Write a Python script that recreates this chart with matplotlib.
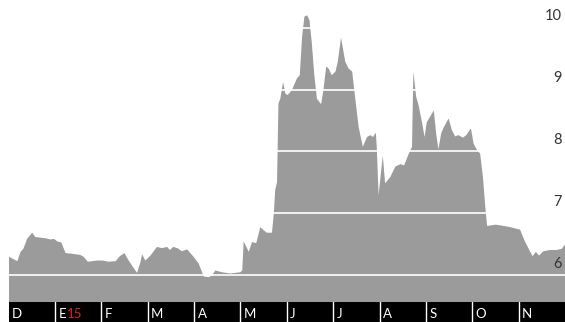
import numpy as np
import matplotlib
matplotlib.use("Agg")
import matplotlib.pyplot as plt

# time in months since 1 Dec 2014, value of the series
t = [0.00, 0.18, 0.25, 0.31, 0.39, 0.50, 0.57, 0.68, 0.79, 0.89, 0.97, 1.04, 1.13, 1.22,
     1.36, 1.54, 1.61, 1.70, 1.90, 2.01, 2.15, 2.30, 2.39, 2.49, 2.58, 2.76, 2.83, 2.87,
     2.94, 3.05, 3.19, 3.30, 3.41, 3.47, 3.54, 3.63, 3.73, 3.84, 3.98, 4.09, 4.20, 4.31,
     4.38, 4.45, 4.59, 4.77, 4.99, 5.03, 5.06, 5.10, 5.17, 5.24, 5.33, 5.42, 5.49, 5.56,
     5.67, 5.71, 5.74, 5.78, 5.81, 5.85, 5.91, 5.96, 6.01, 6.10, 6.21, 6.27, 6.32, 6.37,
     6.43, 6.48, 6.53, 6.58, 6.64, 6.73, 6.78, 6.84, 6.89, 6.96, 7.04, 7.09, 7.16, 7.25,
     7.32, 7.40, 7.47, 7.54, 7.63, 7.72, 7.79, 7.85, 7.91, 7.93, 7.97, 8.06, 8.11, 8.22,
     8.33, 8.44, 8.52, 8.62, 8.69, 8.72, 8.78, 8.83, 8.91, 8.96, 9.01, 9.16, 9.21, 9.26,
     9.32, 9.37, 9.48, 9.55, 9.62, 9.69, 9.79, 9.86, 9.96, 10.02, 10.09, 10.16, 10.22,
     10.27, 10.31, 10.49, 10.59, 10.81, 11.02, 11.13, 11.22, 11.29, 11.36, 11.43, 11.52,
     11.67, 11.81, 11.92, 12.00]
vals = [6.30, 6.23, 6.38, 6.43, 6.59, 6.69, 6.62, 6.61, 6.60, 6.58, 6.59, 6.55, 6.53, 6.36,
        6.35, 6.33, 6.30, 6.22, 6.24, 6.24, 6.22, 6.23, 6.31, 6.36, 6.24, 6.04, 6.20, 6.34,
        6.24, 6.32, 6.46, 6.44, 6.46, 6.41, 6.46, 6.44, 6.39, 6.42, 6.30, 6.19, 5.98, 5.97,
        6.00, 6.08, 6.05, 6.03, 6.05, 6.08, 6.55, 6.49, 6.38, 6.54, 6.52, 6.78, 6.73, 6.69,
        6.69, 7.00, 7.38, 7.51, 8.78, 8.86, 9.13, 8.94, 8.92, 9.00, 9.19, 9.24, 9.86, 10.19,
        10.21, 10.13, 9.76, 9.27, 8.86, 8.77, 9.00, 9.38, 9.35, 9.24, 9.30, 9.46, 9.85, 9.46,
        9.35, 9.30, 8.84, 8.40, 8.08, 8.24, 8.27, 8.24, 8.31, 8.08, 7.30, 7.94, 7.49, 7.59,
        7.76, 7.80, 7.78, 7.97, 8.08, 9.30, 8.89, 8.76, 8.46, 8.24, 8.48, 8.67, 8.30, 8.04,
        8.30, 8.39, 8.54, 8.35, 8.25, 8.27, 8.23, 8.27, 8.38, 8.13, 8.03, 7.97, 7.59,
        7.11, 6.80, 6.82, 6.81, 6.78, 6.74, 6.54, 6.41, 6.31, 6.38, 6.32, 6.39,
        6.41, 6.41, 6.43, 6.51]

months = ["D", "E", "F", "M", "A", "M", "J", "J", "A", "S", "O", "N"]
yticks = [6, 7, 8, 9, 10]
ymin, ymax = 5.56, 10.45

fig = plt.figure(figsize=(5.65, 3.22), dpi=100)
W, H = 565.0, 322.0
left = 8.5 / W

ax = fig.add_axes([left, 20 / H, 1 - left, 1 - 20 / H])
ax.fill_between(t, ymin, vals, color="#9b9b9b", linewidth=0)
for y in yticks:
    ax.axhline(y, color="white", lw=1.2)
    ax.text(11.93, y + 0.07, str(y), ha="right", va="bottom", fontsize=10.5,
            color="#333333", family="Lato")
ax.set_xlim(0, 12)
ax.set_ylim(ymin, ymax)
ax.axis("off")

# month band along the bottom
band = fig.add_axes([left, 0, 1 - left, 20 / H])
band.set_facecolor("black")
band.set_xlim(0, 12)
band.set_ylim(0, 1)
for i in range(1, 12):
    band.axvline(i, color="white", lw=1)
for i, m in enumerate(months):
    band.text(i + 0.075, 0.42, m, color="white", fontsize=9.5, va="center",
              ha="left", family="Lato")
band.text(1.26, 0.42, "15", color="#e0201b", fontsize=9.5, va="center", ha="left",
          family="Lato")
band.set_xticks([])
band.set_yticks([])
for s in band.spines.values():
    s.set_visible(False)

fig.savefig("out.png", dpi=100, facecolor="white")
